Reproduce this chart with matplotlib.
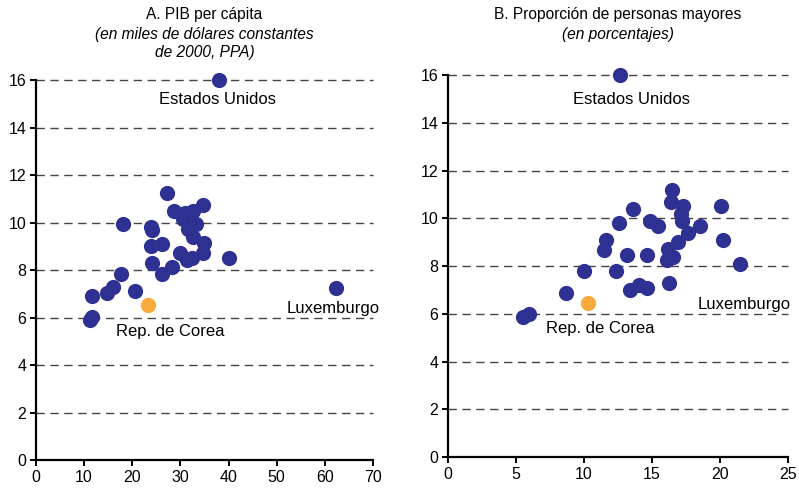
import matplotlib
matplotlib.use("Agg")
import matplotlib.pyplot as plt

plt.rcParams['font.family'] = ['Liberation Sans', 'DejaVu Sans']

# Panel A: PIB per capita (x) vs indicator (y)
gdp_x = [27.2, 28.7, 31.0, 32.7, 34.6, 30.6, 33.3, 31.5, 32.7, 35.0, 34.7,
         29.9, 32.4, 31.3, 40.1, 18.0, 23.8, 24.0, 23.9, 26.1, 24.2, 28.3,
         26.1, 17.7, 15.9, 14.7, 11.7, 20.5, 62.4, 11.2, 11.7, 38.0]
gdp_y = [11.23, 10.5, 10.39, 10.5, 10.74, 10.13, 9.92, 9.71, 9.40, 9.12, 8.70,
         8.73, 8.49, 8.42, 8.49, 9.92, 9.80, 9.68, 9.01, 9.09, 8.31, 8.11,
         7.82, 7.82, 7.30, 7.02, 6.92, 7.12, 7.23, 5.89, 6.03, 16.0]
korea_a = (23.3, 6.53)

# Panel B: share of older people (x) vs indicator (y)
old_x = [16.47, 16.42, 17.3, 17.1, 17.18, 20.05, 13.58, 12.57, 14.85, 15.46,
         18.53, 17.67, 16.94, 20.24, 11.62, 11.47, 13.18, 14.65, 16.15, 16.57,
         16.13, 21.47, 10.02, 12.35, 13.38, 14.07, 14.65, 16.27, 8.68, 5.54,
         5.98, 12.65]
old_y = [11.20, 10.68, 10.50, 10.17, 9.89, 10.50, 10.38, 9.82, 9.89, 9.68,
         9.68, 9.40, 9.01, 9.11, 9.11, 8.69, 8.48, 8.48, 8.70, 8.38,
         8.27, 8.07, 7.78, 7.78, 6.99, 7.20, 7.08, 7.27, 6.88, 5.87,
         5.98, 16.0]
korea_b = (10.27, 6.47)

y_ticks = [0, 2, 4, 6, 8, 10, 12, 14, 16]
xticks_a = [0, 10, 20, 30, 40, 50, 60, 70]
xticks_b = [0, 5, 10, 15, 20, 25]

blue = '#2E3192'
orange = '#F9AA3C'

fig = plt.figure(figsize=(7.99, 4.90), dpi=100)
ax1 = fig.add_axes([0.045, 0.0612, 0.4218, 0.7755])
ax2 = fig.add_axes([0.5607, 0.0673, 0.4255, 0.7796])


def style(ax, xticks, xmax):
    ax.set_xlim(0, xmax)
    ax.set_ylim(0, 16)
    ax.set_xticks(xticks)
    ax.set_yticks(y_ticks)
    for s in ['top', 'right']:
        ax.spines[s].set_visible(False)
    ax.spines['left'].set_linewidth(1.6)
    ax.spines['bottom'].set_linewidth(1.6)
    ax.tick_params(direction='out', length=4, width=1.4, labelsize=11.5, pad=3)
    for y in y_ticks[1:]:
        ax.axhline(y, color='#444444', lw=1.0, dashes=(6, 4), zorder=1, clip_on=False)


style(ax1, xticks_a, 70)
style(ax2, xticks_b, 25)

ax1.scatter(gdp_x, gdp_y, s=120, color=blue, zorder=3, clip_on=False, linewidths=0)
ax1.scatter([korea_a[0]], [korea_a[1]], s=120, color=orange, zorder=3, linewidths=0)
ax2.scatter(old_x, old_y, s=120, color=blue, zorder=3, clip_on=False, linewidths=0)
ax2.scatter([korea_b[0]], [korea_b[1]], s=120, color=orange, zorder=3, linewidths=0)

fs = 12
ax1.text(37.8, 15.16, 'Estados Unidos', ha='center', va='center', fontsize=fs)
ax1.text(61.7, 6.36, 'Luxemburgo', ha='center', va='center', fontsize=fs)
ax1.text(27.9, 5.43, 'Rep. de Corea', ha='center', va='center', fontsize=fs)
ax2.text(13.5, 14.98, 'Estados Unidos', ha='center', va='center', fontsize=fs)
ax2.text(21.8, 6.40, 'Luxemburgo', ha='center', va='center', fontsize=fs)
ax2.text(11.2, 5.40, 'Rep. de Corea', ha='center', va='center', fontsize=fs)

# titles
tfs = 11.2
cx_a = 204.5 / 799
cx_b = 618 / 799
fig.text(cx_a, 1 - 15 / 490, 'A. PIB per cápita', ha='center', va='center', fontsize=tfs)
fig.text(cx_a, 1 - 34 / 490, '(en miles de dólares constantes', ha='center', va='center',
         fontsize=tfs, style='italic')
fig.text(cx_a, 1 - 53 / 490, 'de 2000, PPA)', ha='center', va='center',
         fontsize=tfs, style='italic')
fig.text(cx_b, 1 - 15 / 490, 'B. Proporción de personas mayores', ha='center', va='center',
         fontsize=tfs)
fig.text(cx_b, 1 - 34 / 490, '(en porcentajes)', ha='center', va='center',
         fontsize=tfs, style='italic')

fig.savefig('out.png', dpi=100)
